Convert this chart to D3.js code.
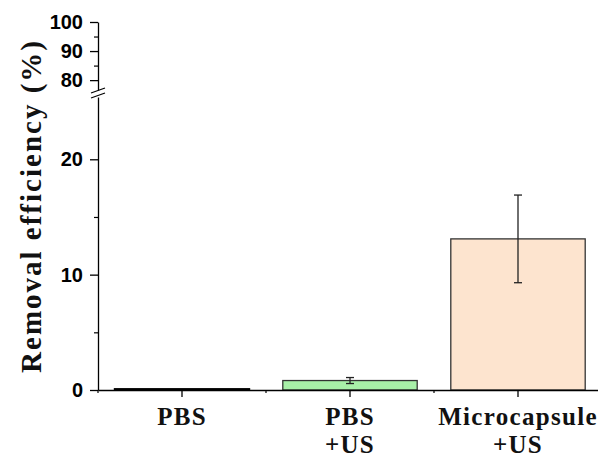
<!DOCTYPE html>
<html><head><meta charset="utf-8">
<script src="https://cdn.jsdelivr.net/npm/d3@7"></script>
<style>body{margin:0;background:#fff}svg{display:block}</style>
</head><body>
<svg id="chart" width="598" height="462"></svg>
<script>
const categories = [["PBS"], ["PBS", "+US"], ["Microcapsule", "+US"]];
const values = [0.08, 0.82, 13.1];
const errors = [0, 0.26, 3.8];
const fills = ["#000000", "#a8f0a8", "#fde4cf"];
const lowTicks = [0, 10, 20];
const lowMinor = [5, 15];
const highTicks = [80, 90, 100];
const highMinor = [85, 95];

const svg = d3.select("#chart");
const x0 = 98, y0 = 390;
const x = d3.scaleBand().domain(d3.range(categories.length)).range([x0, x0 + 504])
  .paddingInner(0.2).paddingOuter(0.1);
const yLow = d3.scaleLinear().domain([0, 25.4]).range([y0, 97]);
const yHigh = d3.scaleLinear().domain([76.6, 100]).range([90, 22]);

// bars
const g = svg.append("g");
g.selectAll("rect").data(values).join("rect")
  .attr("x", (d, i) => x(i))
  .attr("y", d => yLow(d))
  .attr("width", x.bandwidth())
  .attr("height", d => y0 - yLow(d))
  .attr("fill", (d, i) => fills[i])
  .attr("stroke", (d, i) => i === 0 ? "#000" : "#333")
  .attr("stroke-width", (d, i) => i === 0 ? 2 : 1.3);

// error bars
const eb = g.selectAll("g.err").data(values.map((v, i) => ({v, e: errors[i], i})).filter(d => d.e > 0)).join("g").attr("class", "err");
eb.append("line")
  .attr("x1", d => x(d.i) + x.bandwidth() / 2).attr("x2", d => x(d.i) + x.bandwidth() / 2)
  .attr("y1", d => yLow(d.v + d.e)).attr("y2", d => yLow(d.v - d.e))
  .attr("stroke", "#222").attr("stroke-width", 1.3);
eb.selectAll("line.cap").data(d => [d.v + d.e, d.v - d.e].map(y => ({y, i: d.i}))).join("line").attr("class", "cap")
  .attr("x1", d => x(d.i) + x.bandwidth() / 2 - 4).attr("x2", d => x(d.i) + x.bandwidth() / 2 + 4)
  .attr("y1", d => yLow(d.y)).attr("y2", d => yLow(d.y))
  .attr("stroke", "#222").attr("stroke-width", 1.3);

// y axes
function styleAxis(sel) {
  sel.select(".domain").attr("stroke", "#000").attr("stroke-width", 1.3);
  sel.selectAll(".tick line").attr("stroke", "#000").attr("stroke-width", 1.3);
  sel.selectAll(".tick text").attr("font-family", "Liberation Sans, Arial, sans-serif")
    .attr("font-weight", "bold").attr("font-size", 20).attr("fill", "#000");
}
const axLow = svg.append("g").attr("transform", `translate(${x0},0)`)
  .call(d3.axisLeft(yLow).tickValues(lowTicks).tickSize(8).tickSizeOuter(0).tickPadding(7));
styleAxis(axLow);
svg.append("g").attr("transform", `translate(${x0},0)`)
  .call(d3.axisLeft(yLow).tickValues(lowMinor).tickSize(4).tickFormat("").tickSizeOuter(0))
  .call(s => { s.select(".domain").remove(); s.selectAll("line").attr("stroke", "#000").attr("stroke-width", 1.2); });
const axHigh = svg.append("g").attr("transform", `translate(${x0},0)`)
  .call(d3.axisLeft(yHigh).tickValues(highTicks).tickSize(8).tickSizeOuter(0).tickPadding(7));
styleAxis(axHigh);
svg.append("g").attr("transform", `translate(${x0},0)`)
  .call(d3.axisLeft(yHigh).tickValues(highMinor).tickSize(4).tickFormat("").tickSizeOuter(0))
  .call(s => { s.select(".domain").remove(); s.selectAll("line").attr("stroke", "#000").attr("stroke-width", 1.2); });

// break marks
[0, 5].forEach(off => {
  svg.append("line").attr("x1", x0 - 7).attr("x2", x0 + 7)
    .attr("y1", yHigh.range()[0] + 3 + off).attr("y2", yHigh.range()[0] - 2 + off)
    .attr("stroke", "#000").attr("stroke-width", 1.2);
});

// x axis
const ax = svg.append("g").attr("transform", `translate(0,${y0})`)
  .call(d3.axisBottom(x).tickSize(7).tickSizeOuter(0).tickFormat(""));
ax.select(".domain").attr("stroke", "#000").attr("stroke-width", 1.3);
ax.selectAll(".tick line").attr("stroke", "#000").attr("stroke-width", 1.3);
const bounds = d3.range(categories.length + 1).map(i => x0 + i * x.step());
svg.append("g").selectAll("line").data(bounds).join("line")
  .attr("x1", d => d).attr("x2", d => d).attr("y1", y0).attr("y2", y0 + 3)
  .attr("stroke", "#000").attr("stroke-width", 1.2);

// x labels
const xl = svg.append("g");
categories.forEach((lines, i) => {
  const t = xl.append("text").attr("text-anchor", "middle")
    .attr("font-family", "Liberation Serif, Times New Roman, serif")
    .attr("font-weight", "bold").attr("font-size", 25).attr("letter-spacing", 1.3)
    .attr("fill", "#111");
  lines.forEach((ln, j) => {
    t.append("tspan").attr("x", x(i) + x.bandwidth() / 2).attr("y", 425 + j * 28).text(ln);
  });
});

// y label
svg.append("text").attr("transform", "translate(41,206) rotate(-90)")
  .attr("text-anchor", "middle")
  .attr("font-family", "Liberation Serif, Times New Roman, serif")
  .attr("font-weight", "bold").attr("font-size", 29).attr("letter-spacing", 2)
  .attr("fill", "#111").text("Removal efficiency (%)");
</script>
</body></html>
